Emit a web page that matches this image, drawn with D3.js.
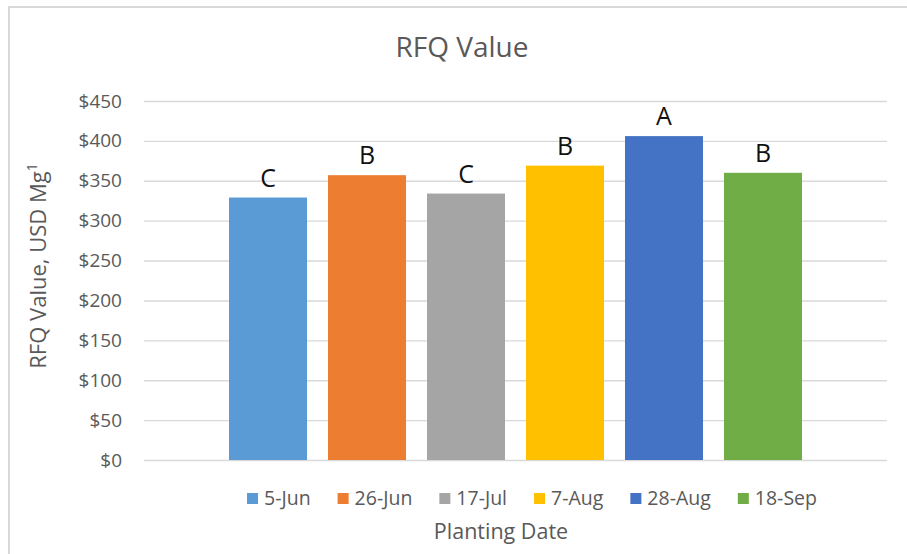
<!DOCTYPE html>
<html>
<head>
<meta charset="utf-8">
<script src="https://cdn.jsdelivr.net/npm/d3@7"></script>
<style>
  html, body { margin: 0; padding: 0; background: #fff; }
  svg { display: block; font-family: "Open Sans", "Noto Sans", sans-serif; }
</style>
</head>
<body>
<svg id="chart" width="907" height="554"></svg>
<script>
// Planting dates, RFQ value (USD per Mg) and mean-separation letters
const plantingDates = ["5-Jun", "26-Jun", "17-Jul", "7-Aug", "28-Aug", "18-Sep"];
const rfqValues = [329, 357, 334, 369, 406, 360];
const groupLetters = ["C", "B", "C", "B", "A", "B"];
const barColors = ["#5B9BD5", "#ED7D31", "#A5A5A5", "#FFC000", "#4472C4", "#70AD47"];
const yTicks = [0, 50, 100, 150, 200, 250, 300, 350, 400, 450];

const svg = d3.select("#chart");
const textGray = "#595959";
const gridGray = "#d9d9d9";

// chart frame
svg.append("rect")
  .attr("x", 9).attr("y", 7)
  .attr("width", 1000).attr("height", 1000)
  .attr("fill", "none").attr("stroke", gridGray).attr("stroke-width", 2);

// plot area
const plot = { left: 144, right: 887, top: 101, bottom: 460 };

const y = d3.scaleLinear().domain([0, 450]).range([plot.bottom, plot.top]);

// one category holding six clustered series
const x = d3.scaleBand()
  .domain(plantingDates)
  .range([229, 802])
  .paddingInner(0.212)
  .paddingOuter(0);

// gridlines + tick labels
const yAxis = d3.axisLeft(y)
  .tickValues(yTicks)
  .tickSize(-(plot.right - plot.left))
  .tickPadding(22)
  .tickFormat(d => "$" + d);

const gAxis = svg.append("g")
  .attr("transform", `translate(${plot.left},0)`)
  .call(yAxis);
gAxis.select(".domain").remove();
gAxis.selectAll(".tick line")
  .attr("stroke", gridGray).attr("stroke-width", 1.4);
gAxis.selectAll(".tick text")
  .attr("fill", textGray)
  .attr("font-size", 19)
  .attr("font-family", "Open Sans, sans-serif");

// bars
svg.append("g").selectAll("rect")
  .data(plantingDates)
  .join("rect")
  .attr("x", d => x(d))
  .attr("width", x.bandwidth())
  .attr("y", (d, i) => y(rfqValues[i]))
  .attr("height", (d, i) => y(0) - y(rfqValues[i]))
  .attr("fill", (d, i) => barColors[i]);

// letters above bars
svg.append("g").selectAll("text")
  .data(plantingDates)
  .join("text")
  .attr("x", d => x(d) + x.bandwidth() / 2)
  .attr("y", (d, i) => y(rfqValues[i]) - 11)
  .attr("text-anchor", "middle")
  .attr("font-size", 25)
  .attr("fill", "#111")
  .text((d, i) => groupLetters[i]);

// title
svg.append("text")
  .attr("x", 462).attr("y", 57)
  .attr("text-anchor", "middle")
  .attr("font-size", 28)
  .attr("fill", textGray)
  .text("RFQ Value");

// y-axis title
const yTitle = svg.append("text")
  .attr("transform", "translate(46,266) rotate(-90)")
  .attr("text-anchor", "middle")
  .attr("font-size", 22)
  .attr("fill", textGray);
yTitle.append("tspan").text("RFQ Value, USD Mg");
yTitle.append("tspan").attr("font-size", 14).attr("dy", -9).text("1");

// x-axis title
svg.append("text")
  .attr("x", 501).attr("y", 539)
  .attr("text-anchor", "middle")
  .attr("font-size", 21.5)
  .attr("fill", textGray)
  .text("Planting Date");

// legend, centred under the chart
const legend = svg.append("g");
const sq = 11, sqGap = 6, itemGap = 27;
let cursor = 0;
plantingDates.forEach((d, i) => {
  const item = legend.append("g").attr("transform", `translate(${cursor},0)`);
  item.append("rect")
    .attr("x", 0).attr("y", -sq / 2)
    .attr("width", sq).attr("height", sq)
    .attr("fill", barColors[i]);
  const t = item.append("text")
    .attr("x", sq + sqGap).attr("y", 0)
    .attr("dy", "0.35em")
    .attr("font-size", 19.5)
    .attr("fill", textGray)
    .text(d);
  cursor += sq + sqGap + t.node().getComputedTextLength() + itemGap;
});
const legendWidth = cursor - itemGap;
legend.attr("transform", `translate(${532 - legendWidth / 2},498.5)`);
</script>
</body>
</html>
